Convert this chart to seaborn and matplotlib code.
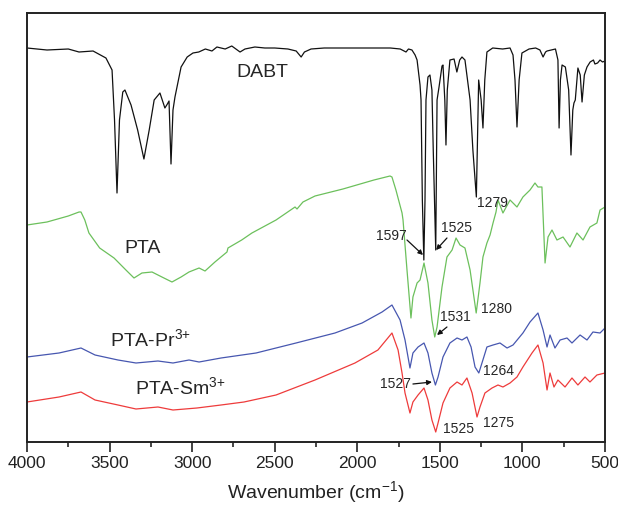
import numpy as np
import pandas as pd
import matplotlib
matplotlib.use('Agg')
import matplotlib.pyplot as plt
import seaborn as sns
from matplotlib.ticker import MultipleLocator

# FTIR spectra (y = transmittance, arbitrary units with offsets)
dabt_wn = [4000, 3879, 3750, 3685, 3600, 3522, 3485, 3470, 3455, 3440, 3420, 3407, 3370, 3330,
           3292, 3260, 3230, 3195, 3165, 3150, 3140, 3128, 3116, 3104, 3067, 3030, 2995, 2960,
           2920, 2880, 2850, 2800, 2760, 2710, 2680, 2620, 2560, 2500, 2420, 2370, 2340, 2320,
           2280, 2200, 2100, 2000, 1900, 1800, 1740, 1705, 1690, 1669, 1650, 1638, 1620, 1614,
           1606, 1597, 1590, 1584, 1572, 1560, 1548, 1540, 1525, 1517, 1505, 1487, 1481, 1470,
           1463, 1455, 1439, 1414, 1397, 1380, 1366, 1348, 1317, 1300, 1279, 1265, 1250, 1239,
           1228, 1215, 1180, 1120, 1075, 1057, 1045, 1033, 1020, 1003, 960, 920, 894, 875, 860,
           851, 800, 785, 778, 770, 760, 740, 720, 706, 695, 688, 680, 664, 650, 639, 625, 609,
           590, 570, 561, 545, 530, 515, 500]
dabt_t = [394, 392, 393, 390, 391, 384, 372, 322, 249, 322, 350, 352, 337, 312,
          283, 312, 342, 349, 334, 338, 341, 278, 332, 345, 375, 385, 389, 390,
          393, 391, 395, 393, 396, 390, 393, 395, 394, 394, 393, 391, 385, 390,
          393, 394, 394, 394, 394, 394, 393, 390, 393, 392, 387, 382, 357, 342,
          242, 182, 242, 342, 365, 367, 352, 292, 192, 342, 355, 376, 377, 342,
          297, 352, 382, 383, 370, 382, 385, 382, 342, 292, 245, 362, 342, 314,
          362, 390, 394, 393, 394, 387, 362, 315, 362, 389, 393, 394, 392, 385, 390,
          391, 393, 382, 314, 362, 377, 375, 352, 287, 332, 339, 342, 374, 367, 340, 367, 375,
          380, 382, 378, 379, 382, 380, 381]

pta_wn = [4000, 3879, 3750, 3685, 3673, 3650, 3625, 3560, 3473, 3401, 3352, 3304, 3243, 3183,
          3122, 3067, 3019, 2958, 2922, 2862, 2789, 2783, 2700, 2638, 2492, 2377, 2365, 2329,
          2256, 2087, 1899, 1802, 1790, 1766, 1729, 1723, 1699, 1675, 1663, 1638, 1620, 1596,
          1572, 1548, 1531, 1517, 1487, 1457, 1426, 1402, 1378, 1348, 1317, 1280, 1257, 1239,
          1215, 1196, 1178, 1160, 1148, 1118, 1075, 1033, 997, 954, 924, 906, 882, 863, 845,
          821, 791, 754, 712, 670, 633, 591, 549, 530, 500]
pta_t = [217, 220, 226, 230, 230, 222, 209, 194, 184, 172, 164, 169, 170, 165,
         160, 165, 170, 174, 171, 180, 190, 194, 202, 209, 222, 235, 233, 240,
         246, 253, 262, 266, 265, 252, 229, 222, 172, 124, 145, 159, 162, 179,
         159, 122, 105, 115, 155, 185, 192, 204, 197, 194, 172, 129, 159, 185,
         199, 207, 219, 230, 242, 229, 242, 235, 245, 252, 259, 255, 255, 179, 205,
         212, 202, 205, 195, 209, 202, 215, 219, 232, 235]

pr_wn = [4000, 3806, 3673, 3588, 3449, 3340, 3207, 3116, 3019, 2958, 2825, 2613, 2371, 2135,
         1971, 1850, 1790, 1741, 1711, 1681, 1663, 1632, 1596, 1572, 1548, 1527, 1511, 1481,
         1439, 1396, 1366, 1336, 1311, 1287, 1264, 1245, 1215, 1178, 1136, 1093, 1057, 997,
         954, 906, 875, 851, 833, 803, 772, 730, 700, 651, 609, 573, 530, 500]
pr_t = [85, 89, 94, 87, 82, 79, 81, 79, 82, 80, 84, 89, 99, 109,
        119, 130, 137, 122, 102, 74, 89, 95, 99, 89, 69, 57, 65, 85,
        99, 104, 102, 105, 95, 75, 69, 79, 95, 97, 99, 94, 97, 109,
        120, 129, 112, 95, 107, 94, 102, 104, 99, 107, 102, 110, 109, 114]

sm_wn = [4000, 3806, 3673, 3588, 3449, 3340, 3207, 3116, 2971, 2825, 2686, 2492, 2256, 2014,
         1875, 1790, 1753, 1729, 1711, 1681, 1663, 1632, 1596, 1572, 1548, 1525, 1511, 1481,
         1439, 1396, 1366, 1336, 1305, 1275, 1257, 1227, 1184, 1148, 1118, 1075, 1033, 997,
         942, 906, 875, 851, 833, 809, 785, 742, 700, 664, 621, 591, 549, 500]
sm_t = [40, 45, 50, 42, 37, 33, 35, 32, 34, 37, 40, 47, 62, 79,
        92, 109, 92, 69, 49, 29, 40, 47, 54, 42, 22, 10, 19, 39,
        54, 60, 57, 64, 49, 25, 35, 49, 54, 57, 55, 59, 65, 75,
        89, 97, 79, 52, 69, 55, 62, 55, 64, 57, 65, 60, 67, 69]

names = ['DABT', 'PTA', 'PTA-Pr', 'PTA-Sm']
colors = ['#111111', '#6cc05c', '#4757b0', '#ee3b3b']

sns.set_style('ticks')
plt.rcParams['font.family'] = ['Liberation Sans', 'DejaVu Sans']
plt.rcParams['mathtext.fontset'] = 'custom'
plt.rcParams['mathtext.rm'] = 'Liberation Sans'

fig = plt.figure(figsize=(6.18, 5.08), dpi=100)
ax = fig.add_axes([27 / 618, 66 / 508, 578 / 618, 429 / 508])

series = [(dabt_wn, dabt_t), (pta_wn, pta_t), (pr_wn, pr_t), (sm_wn, sm_t)]
for (wn, t), c in zip(series, colors):
    sns.lineplot(x=wn, y=t, ax=ax, color=c, lw=0.9, estimator=None, sort=False)

ax.set_xlim(4000, 500)
ax.set_ylim(0, 429)
ax.set_yticks([])
ax.xaxis.set_major_locator(MultipleLocator(500))
ax.xaxis.set_minor_locator(MultipleLocator(250))
ax.tick_params(axis='x', which='major', direction='out', length=7, width=1.2,
               labelsize=12.5, pad=3, colors='#222222')
ax.tick_params(axis='x', which='minor', direction='out', length=3.5, width=1.2)
for s in ax.spines.values():
    s.set_linewidth(1.4)
    s.set_color('#222222')
ax.set_xlabel('Wavenumber (cm$^{-1}$)', fontsize=14, labelpad=6, color='#222222')

# series labels
ax.text(2577, 365, 'DABT', fontsize=14, ha='center', va='baseline')
ax.text(3298, 189, 'PTA', fontsize=14, ha='center', va='baseline')
ax.text(3250, 95, r'PTA-Pr$^{3{+}}$', fontsize=14, ha='center', va='baseline')
ax.text(3073, 47, r'PTA-Sm$^{3{+}}$', fontsize=14, ha='center', va='baseline')

# peak labels
pk = dict(fontsize=10, va='center')
ax.text(1275, 239, '1279', ha='left', **pk)
ax.text(1796, 206, '1597', ha='center', **pk)
ax.text(1402, 214, '1525', ha='center', **pk)
ax.text(1408, 125, '1531', ha='center', **pk)
ax.text(1154, 133, '1280', ha='center', **pk)
ax.text(1142, 71, '1264', ha='center', **pk)
ax.text(1766, 58, '1527', ha='center', **pk)
ax.text(1390, 13, '1525', ha='center', **pk)
ax.text(1142, 19, '1275', ha='center', **pk)

arrow = dict(arrowstyle='-|>', color='#111111', lw=0.9, mutation_scale=7, shrinkA=0, shrinkB=0)
ax.annotate('', xy=(1602, 187), xytext=(1699, 202), arrowprops=arrow)
ax.annotate('', xy=(1523, 192), xytext=(1457, 204), arrowprops=arrow)
ax.annotate('', xy=(1517, 107), xytext=(1457, 115), arrowprops=arrow)
ax.annotate('', xy=(1548, 60), xytext=(1663, 58), arrowprops=arrow)

fig.savefig('out.png', dpi=100)
